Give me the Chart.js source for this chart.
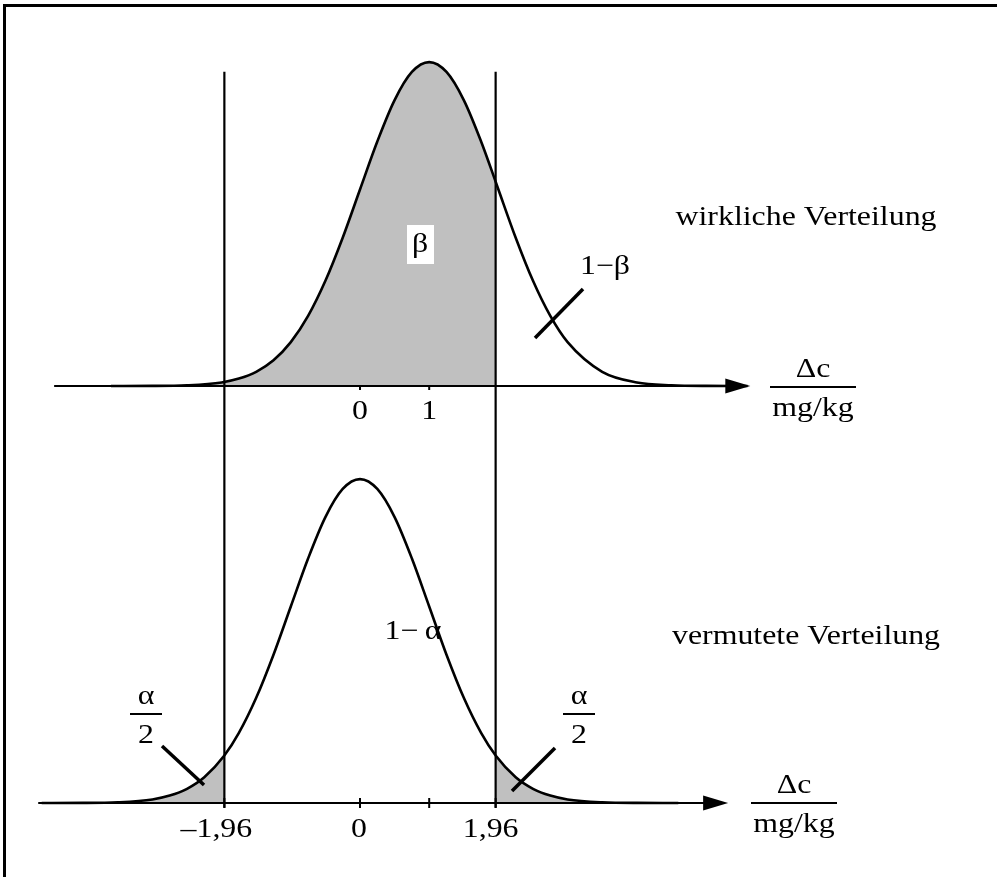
<!DOCTYPE html>
<html lang="de">
<head>
<meta charset="utf-8">
<title>Fehler 1. und 2. Art</title>
<script src="https://cdn.jsdelivr.net/npm/chart.js@4.4.1/dist/chart.umd.min.js"></script>
<style>
  html, body { margin: 0; padding: 0; background: #fff; }
  #wrap { position: relative; width: 997px; height: 877px; overflow: hidden; }
  #frame { position: absolute; left: 3px; top: 4px; right: -10px; bottom: -10px;
           border-top: 3px solid #000; border-left: 3px solid #000; pointer-events: none; }
</style>
</head>
<body>
<div id="wrap">
  <canvas id="plot" width="997" height="877"></canvas>
  <div id="frame"></div>
</div>
<script>
// ── data ──────────────────────────────────────────────────────────────
// wirkliche Verteilung (Mittelwert 1), Dichte über Δc
const trueX = [-3.6, -3, -2.5, -2, -1.75, -1.5, -1.25, -1, -0.75, -0.5, -0.25, 0, 0.25, 0.5, 0.75,
               1, 1.25, 1.5, 1.75, 1.96, 2, 2.25, 2.5, 2.75, 3, 3.5, 4, 4.5, 5, 5.6];
const trueY = [0, 0.0001, 0.0009, 0.0044, 0.0091, 0.0175, 0.0317, 0.0540, 0.0863, 0.1295, 0.1826, 0.2420, 0.3011, 0.3521, 0.3867,
               0.3989, 0.3867, 0.3521, 0.3011, 0.2516, 0.2420, 0.1826, 0.1295, 0.0863, 0.0540, 0.0175, 0.0044, 0.0009, 0.0001, 0];

// vermutete Verteilung (Mittelwert 0)
const nullX = [-4.6, -4, -3.5, -3, -2.75, -2.5, -2.25, -1.96, -1.75, -1.5, -1.25, -1, -0.75, -0.5, -0.25,
               0, 0.25, 0.5, 0.75, 1, 1.25, 1.5, 1.75, 1.96, 2.25, 2.5, 2.75, 3, 3.5, 4, 4.6];
const nullY = [0, 0.0001, 0.0009, 0.0044, 0.0091, 0.0175, 0.0317, 0.0584, 0.0863, 0.1295, 0.1826, 0.2420, 0.3011, 0.3521, 0.3867,
               0.3989, 0.3867, 0.3521, 0.3011, 0.2420, 0.1826, 0.1295, 0.0863, 0.0584, 0.0317, 0.0175, 0.0091, 0.0044, 0.0009, 0.0001, 0];

const critical   = 1.96;
const topTicks   = [0, 1];
const topLabels  = ['0', '1'];
const botTicks   = [-1.96, 0, 1, 1.96];
const botLabels  = ['\u20131,96', '0', '', '1,96'];

// ── layout ────────────────────────────────────────────────────────────
const W = 997, H = 877;
const X0_PX = 360, PX_PER_X = 69.2;          // Δc = 0 and unit width
const TOP_BASE = 386, BOT_BASE = 803;        // pixel rows of the two axes
const PX_PER_Y = 812;                        // density → pixels
const SERIF = "27px 'Liberation Serif', 'Times New Roman', serif";
const HSCALE = 1.18;                         // wide type

const pts = (xs, ys) => xs.map((x, i) => ({ x, y: ys[i] }));
const truePts = pts(trueX, trueY);
const nullPts = pts(nullX, nullY);

const curve = (data, axis) => ({
  data, yAxisID: axis, borderColor: '#000', borderWidth: 2.6,
  pointRadius: 0, cubicInterpolationMode: 'monotone', fill: false, order: 0
});
const area = (data, axis) => ({
  data, yAxisID: axis, borderWidth: 0, borderColor: 'rgba(0,0,0,0)',
  backgroundColor: '#c0c0c0', pointRadius: 0, cubicInterpolationMode: 'monotone',
  fill: 'origin', order: 5
});

// ── decorations: axes, arrows, guides, labels ─────────────────────────
function text(ctx, s, x, y, align) {
  ctx.save();
  ctx.translate(x, y);
  ctx.scale(HSCALE, 1);
  ctx.textAlign = align || 'center';
  ctx.fillText(s, 0, 0);
  ctx.restore();
}
function seg(ctx, x1, y1, x2, y2, w) {
  ctx.lineWidth = w;
  ctx.beginPath(); ctx.moveTo(x1, y1); ctx.lineTo(x2, y2); ctx.stroke();
}
function fraction(ctx, top, bottom, cx, cy, half) {
  text(ctx, top, cx, cy - 17);
  seg(ctx, cx - half, cy, cx + half, cy, 2);
  text(ctx, bottom, cx, cy + 22);
}

const decor = {
  id: 'decor',
  afterDatasetsDraw(chart) {
    const { ctx, scales: { x, yTop, yBot } } = chart;
    const px = v => x.getPixelForValue(v);
    ctx.save();
    ctx.strokeStyle = '#000';
    ctx.fillStyle = '#000';
    ctx.lineCap = 'butt';

    // axes with arrow heads
    const axes = [
      { y: yTop.getPixelForValue(0), from: -4.42, to: 5.64 },
      { y: yBot.getPixelForValue(0), from: -4.65, to: 5.32 }
    ];
    axes.forEach(a => {
      const x1 = px(a.from), tip = px(a.to);
      seg(ctx, x1, a.y, tip - 20, a.y, 2.2);
      ctx.beginPath();
      ctx.moveTo(tip, a.y);
      ctx.lineTo(tip - 25, a.y - 7.5);
      ctx.lineTo(tip - 25, a.y + 7.5);
      ctx.closePath();
      ctx.fill();
    });

    // critical limits, running through both panels
    const gTop = yTop.getPixelForValue(0.387), gBot = yBot.getPixelForValue(-0.006);
    [-critical, critical].forEach(c => seg(ctx, px(c), gTop, px(c), gBot, 2.2));

    // ticks
    const yT = axes[0].y, yB = axes[1].y;
    topTicks.forEach(t => seg(ctx, px(t), yT, px(t), yT + 4, 2));
    botTicks.forEach(t => seg(ctx, px(t), yB - 5, px(t), yB + 5, 2));

    // leader lines
    seg(ctx, 535, 338, 583, 289, 3.5);
    seg(ctx, 162, 746, 204, 785, 3.5);
    seg(ctx, 555, 748, 512, 791, 3.5);

    // β box
    ctx.fillStyle = '#fff';
    ctx.fillRect(407, 225, 27, 39);
    ctx.fillStyle = '#000';

    ctx.font = SERIF;
    ctx.textBaseline = 'middle';
    text(ctx, '\u03b2', 420, 245);
    text(ctx, '1\u2212\u03b2', 605, 267);
    text(ctx, '1\u2212\u2009\u03b1', 413, 632);
    text(ctx, 'wirkliche Verteilung', 806, 218);
    text(ctx, 'vermutete Verteilung', 806, 637);

    topTicks.forEach((t, i) => text(ctx, topLabels[i], px(t), yT + 26));
    text(ctx, botLabels[0], px(botTicks[0]) - 8, yB + 27);
    text(ctx, botLabels[1], px(botTicks[1]) - 1, yB + 27);
    text(ctx, botLabels[3], px(botTicks[3]) - 5, yB + 27);

    fraction(ctx, '\u03b1', '2', 146, 714, 16);
    fraction(ctx, '\u03b1', '2', 579, 714, 16);
    fraction(ctx, '\u0394c', 'mg/kg', 813, 387, 43);
    fraction(ctx, '\u0394c', 'mg/kg', 794, 803, 43);
    ctx.restore();
  }
};

// ── chart ─────────────────────────────────────────────────────────────
new Chart(document.getElementById('plot').getContext('2d'), {
  type: 'line',
  data: {
    datasets: [
      curve(truePts, 'yTop'),
      curve(nullPts, 'yBot'),
      area(truePts.filter(p => p.x <= critical), 'yTop'),
      area(nullPts.filter(p => p.x <= -critical), 'yBot'),
      area(nullPts.filter(p => p.x >= critical), 'yBot')
    ]
  },
  options: {
    responsive: false,
    animation: false,
    devicePixelRatio: 1,
    layout: { padding: 0 },
    events: [],
    plugins: { legend: { display: false }, tooltip: { enabled: false } },
    scales: {
      x: { type: 'linear', display: false, min: -X0_PX / PX_PER_X, max: (W - X0_PX) / PX_PER_X },
      yTop: { type: 'linear', display: false, min: -(H - TOP_BASE) / PX_PER_Y, max: TOP_BASE / PX_PER_Y },
      yBot: { type: 'linear', display: false, min: -(H - BOT_BASE) / PX_PER_Y, max: BOT_BASE / PX_PER_Y }
    }
  },
  plugins: [decor]
});
</script>
</body>
</html>
